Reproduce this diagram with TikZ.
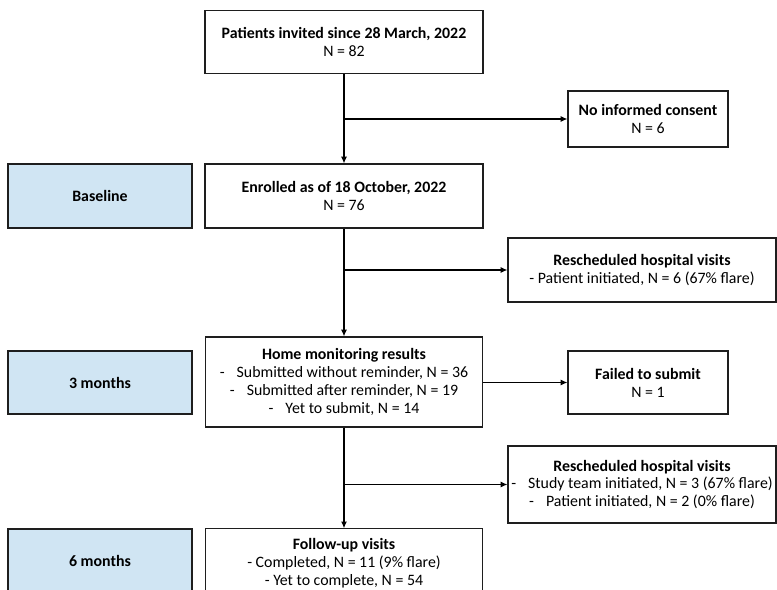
\documentclass[tikz,border=0pt]{standalone}
\usepackage{fontspec}
\setmainfont{Carlito}
\usetikzlibrary{arrows.meta}
\definecolor{lblue}{RGB}{208,229,243}
\definecolor{edge}{RGB}{30,30,30}
\tikzset{
  box/.style={draw=edge, line width=0.9pt, fill=white, align=center, inner sep=2pt,
    font=\fontsize{11.9}{13.4}\selectfont},
  tbox/.style={box, fill=lblue, font=\fontsize{11.9}{13.4}\selectfont\bfseries},
  conn/.style={draw=black, line width=0.9pt},
  arr/.style={conn, -{Latex[length=5pt,width=4.5pt]}}
}
\newcommand{\dsh}{-\hspace{9pt}}
\begin{document}
\begin{tikzpicture}[x=0.75pt,y=-0.75pt]
\useasboundingbox (0,0) rectangle (777,589);
\clip (0,0) rectangle (777,589);
\fill[white] (0,0) rectangle (777,589);
% main column
\node[box, minimum width=208.5pt, minimum height=47.25pt] (inv) at (344,42)
  {\textbf{Patients invited since 28 March, 2022}\\N = 82};
\node[box, minimum width=120pt, minimum height=42pt] (nic) at (648,119)
  {\textbf{No informed consent}\\N = 6};
\node[tbox, minimum width=138pt, minimum height=48pt] (base) at (100,196) {Baseline};
\node[box, minimum width=208.5pt, minimum height=48pt] (enr) at (344,196)
  {\textbf{Enrolled as of 18 October, 2022}\\N = 76};
\node[box, minimum width=201pt, minimum height=48pt] (rs1) at (642,270)
  {\textbf{Rescheduled hospital visits}\\- Patient initiated, N = 6 (67\% flare)};
\node[tbox, minimum width=138pt, minimum height=47.25pt] (m3) at (100,382.5) {3 months};
\node[box, minimum width=208pt, minimum height=67.5pt] (home) at (344,382)
  {\textbf{Home monitoring results}\\
   \dsh Submitted without reminder, N = 36\\
   \dsh Submitted after reminder, N = 19\\
   \dsh Yet to submit, N = 14};
\node[box, minimum width=120pt, minimum height=47.25pt] (fail) at (648,382.5)
  {\textbf{Failed to submit}\\N = 1};
\node[box, minimum width=201pt, minimum height=57.75pt] (rs2) at (642,484.5)
  {\textbf{Rescheduled hospital visits}\\
   \dsh Study team initiated, N = 3 (67\% flare)\\
   \dsh Patient initiated, N = 2 (0\% flare)};
\node[tbox, minimum width=138pt, minimum height=48pt] (m6) at (100,561) {6 months};
\node[box, minimum width=208pt, minimum height=52pt] (fu) at (344,563.5)
  {\textbf{Follow-up visits}\\- Completed, N = 11 (9\% flare)\\- Yet to complete, N = 54};
% junctions
\coordinate (j1) at (inv.south |- nic.west);
\coordinate (j2) at (enr.south |- rs1.west);
\coordinate (j3) at (home.south |- rs2.west);
\coordinate (j4) at (home.east |- fail.west);
% connectors
\draw[arr] (inv.south) -- (enr.north);
\draw[arr] (j1) -- (nic.west);
\draw[arr] (enr.south) -- (home.north);
\draw[arr] (j2) -- (rs1.west);
\draw[arr] (j4) -- (fail.west);
\draw[arr] (home.south) -- (fu.north);
\draw[arr] (j3) -- (rs2.west);
\end{tikzpicture}
\end{document}
